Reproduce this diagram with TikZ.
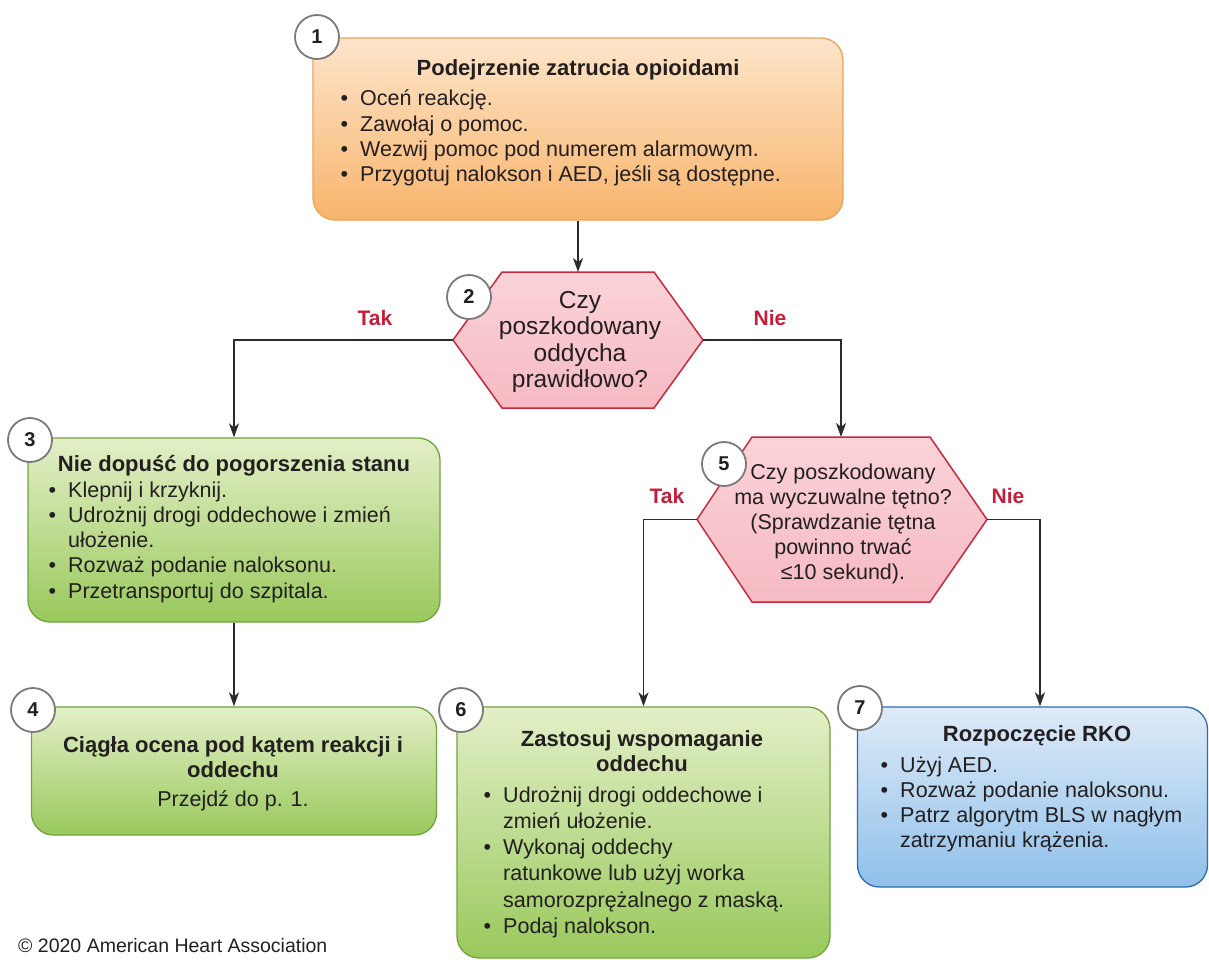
\documentclass[tikz,border=0pt]{standalone}
\usepackage{fontspec}
\setmainfont{Liberation Sans}
\usetikzlibrary{arrows.meta,calc}

\definecolor{ink}{HTML}{231F20}
\definecolor{orTop}{HTML}{FDE5CA}
\definecolor{orBot}{HTML}{F8B46C}
\definecolor{orLine}{HTML}{E9A458}
\definecolor{grTop}{HTML}{E3EFC7}
\definecolor{grBot}{HTML}{99C95C}
\definecolor{grLine}{HTML}{6EA43E}
\definecolor{blTop}{HTML}{DEEBF8}
\definecolor{blBot}{HTML}{8FC0EA}
\definecolor{blLine}{HTML}{2B6CB2}
\definecolor{pkTop}{HTML}{FAD3D8}
\definecolor{pkBot}{HTML}{F6BAC3}
\definecolor{pkLine}{HTML}{C8283D}
\definecolor{decision}{HTML}{C41E3A}
\definecolor{ring}{HTML}{7A7A7A}
\definecolor{wire}{HTML}{2B2B2B}

% bullet list: first column bullet, second column text
\newcommand{\bl}{\textbullet}
\newcommand{\blist}[2][25.3]{{\fontsize{21.5}{#1}\selectfont
  \begin{tabular}[t]{@{}l@{\hspace{12pt}}l@{}}#2\end{tabular}}}
\newcommand{\clines}[1]{\begin{tabular}[t]{@{}c@{}}#1\end{tabular}}

\tikzset{
  panel/.style={draw=#1Line, top color=#1Top, bottom color=#1Bot,
    rounded corners=22pt, line width=1.3pt, inner sep=0pt},
  hexshape/.style={draw=pkLine, top color=pkTop, bottom color=pkBot,
    line width=1.5pt, line join=miter},
  flow/.style={draw=wire, line width=1.8pt,
    -{Stealth[length=14pt,width=10pt,inset=4pt]}},
  stepnum/.style={circle, draw=ring, fill=white, line width=1.8pt,
    minimum size=44pt, inner sep=0pt, text=ink,
    font=\fontsize{20}{20}\selectfont\bfseries},
  headtxt/.style={anchor=base, inner sep=0pt, text=ink,
    font=\fontsize{22}{25.3}\selectfont\bfseries},
  bodytxt/.style={anchor=base, inner sep=0pt, text=ink,
    font=\fontsize{21.5}{25.3}\selectfont},
  listtxt/.style={anchor=base west, inner sep=0pt, text=ink},
  yesno/.style={anchor=base, inner sep=0pt, text=decision,
    font=\fontsize{21}{21}\selectfont\bfseries},
}

\begin{document}
\begin{tikzpicture}[x=1pt,y=-1pt]
\useasboundingbox (0,0) rectangle (1209,960);

% ---- boxes ----
\node[panel=or, minimum width=530pt, minimum height=182pt] (b1) at (578,129) {};
\node[panel=gr, minimum width=412pt, minimum height=184pt] (b3) at (234,530) {};
\node[panel=gr, minimum width=405pt, minimum height=128pt] (b4) at (234,771) {};
\node[panel=gr, minimum width=373pt, minimum height=251pt] (b6) at (643.5,832.5) {};
\node[panel=bl, minimum width=350pt, minimum height=180pt] (b7) at (1032.5,797) {};

% ---- decision hexagons ----
\coordinate (h2n) at (578,272);
\coordinate (h2w) at (453,340);
\coordinate (h2e) at (703,340);
\path[hexshape] (502,272) -- (654,272) -- (h2e) -- (654,408) -- (502,408) -- (h2w) -- cycle;

\coordinate (h5n) at (841,437);
\coordinate (h5w) at (697,519.5);
\coordinate (h5e) at (987,519.5);
\path[hexshape] (752,437) -- (930,437) -- (h5e) -- (930,602) -- (752,602) -- (h5w) -- cycle;

% ---- connectors ----
\draw[flow] (b1.south) -- (h2n);
\draw[flow] (h2w) -| (b3.north);
\draw[flow] (h2e) -| (h5n);
\draw[flow] (b3.south) -- (b4.north);
\draw[flow] (h5w) -| (b6.north);
\draw[flow] (h5e) -| ([xshift=7.5pt]b7.north);

\node[yesno] (y2) at (375,325) {Tak};
\node[yesno] (n2) at (770,325) {Nie};
\node[yesno] (y5) at (667,503) {Tak};
\node[yesno] (n5) at (1008,503) {Nie};

% ---- box texts ----
\node[headtxt] (t1) at (578,76) {Podejrzenie zatrucia opioidami};
\node[listtxt] (l1) at (340.5,106) {\blist{\bl & Oceń reakcję.\\ \bl & Zawołaj o pomoc.\\
  \bl & Wezwij pomoc pod numerem alarmowym.\\ \bl & Przygotuj nalokson i AED, jeśli są dostępne.}};

\node[anchor=base, inner sep=0pt, text=ink, font=\fontsize{24.5}{26.5}\selectfont] (q2) at (580,308)
  {\clines{Czy\\ poszkodowany\\ oddycha\\ prawidłowo?}};

\node[headtxt] (t3) at (234,471) {Nie dopuść do pogorszenia stanu};
\node[listtxt] (l3) at (48.5,497) {\blist{\bl & Klepnij i krzyknij.\\
  \bl & Udrożnij drogi oddechowe i zmień\\ & ułożenie.\\
  \bl & Rozważ podanie naloksonu.\\ \bl & Przetransportuj do szpitala.}};

\node[headtxt] (t4) at (233,752) {\clines{Ciągła ocena pod kątem reakcji i\\ oddechu}};
\node[bodytxt] (s4) at (233,806) {Przejdź do p. 1.};

\node[anchor=base, inner sep=0pt, text=ink, font=\fontsize{21.5}{25.2}\selectfont] (q5) at (843,479)
  {\clines{Czy poszkodowany\\ ma wyczuwalne tętno?\\ (Sprawdzanie tętna\\ powinno trwać\\ ≤10 sekund).}};

\node[headtxt] (t6) at (642,746) {\clines{Zastosuj wspomaganie\\ oddechu}};
\node[listtxt] (l6) at (483.5,802) {\blist[26.3]{\bl & Udrożnij drogi oddechowe i\\ & zmień ułożenie.\\
  \bl & Wykonaj oddechy\\ & ratunkowe lub użyj worka\\ & samorozprężalnego z maską.\\
  \bl & Podaj nalokson.}};

\node[headtxt] (t7) at (1037,741) {Rozpoczęcie RKO};
\node[listtxt] (l7) at (880.5,772) {\blist{\bl & Użyj AED.\\ \bl & Rozważ podanie naloksonu.\\
  \bl & Patrz algorytm BLS w nagłym\\ & zatrzymaniu krążenia.}};

% ---- step numbers ----
\node[stepnum] (c1) at (317,37) {1};
\node[stepnum] (c2) at (469,297) {2};
\node[stepnum] (c3) at (30,440) {3};
\node[stepnum] (c4) at (33,710) {4};
\node[stepnum] (c5) at (724,464) {5};
\node[stepnum] (c6) at (461,710) {6};
\node[stepnum] (c7) at (860,708) {7};

% ---- footer ----
\node[anchor=base west, inner sep=0pt, text=ink, font=\fontsize{19.5}{20}\selectfont] (cr) at (18,952)
  {© 2020 American Heart Association};
\end{tikzpicture}
\end{document}
